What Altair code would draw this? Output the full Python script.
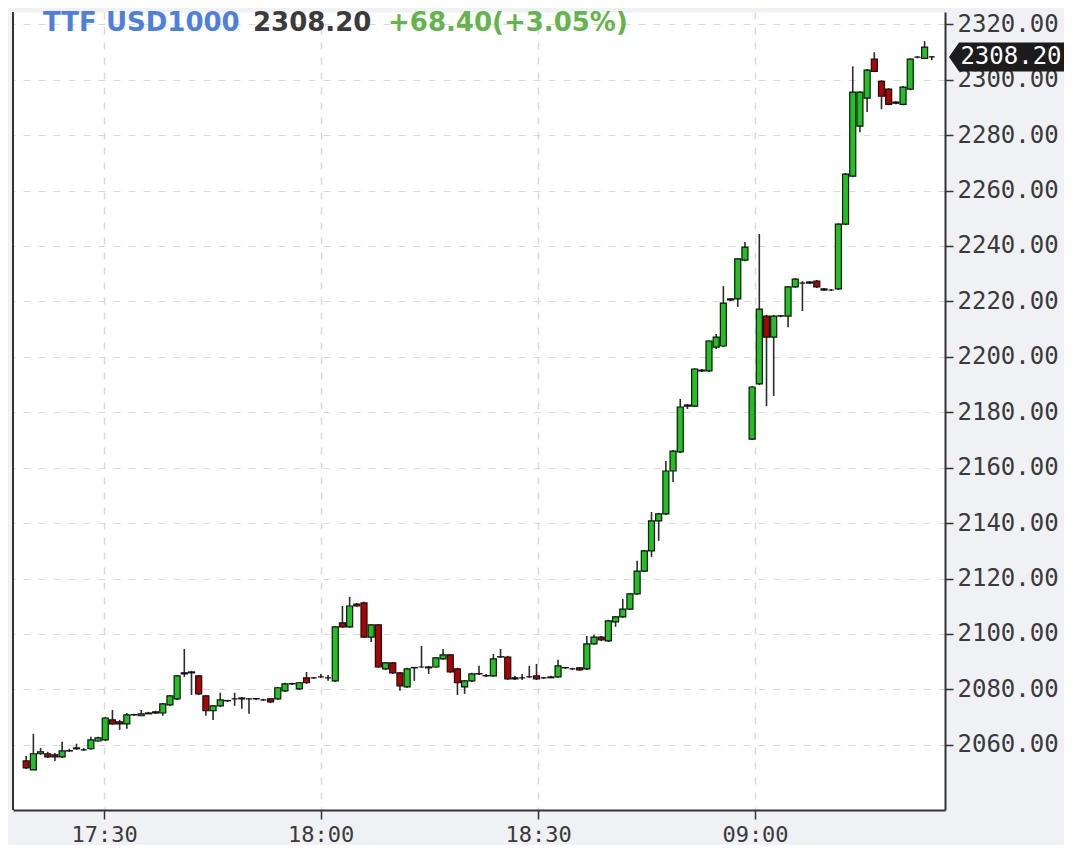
import altair as alt
import pandas as pd
import numpy as np

# ---- OHLC data (1-minute candles) ----
OPEN = [2054.2, 2051.0, 2056.8, 2056.8, 2056.4, 2055.7, 2057.8, 2058.6, 2058.2, 2058.6,
        2061.4, 2061.8, 2069.0, 2068.3, 2067.6, 2070.8, 2070.5, 2071.2, 2071.5, 2071.5,
        2074.4, 2076.6, 2085.6, 2086.3, 2084.9, 2077.7, 2072.3, 2074.1, 2075.9, 2076.6,
        2076.6, 2076.6, 2076.6, 2076.2, 2076.6, 2076.6, 2079.5, 2082.0, 2080.2, 2084.2,
        2084.2, 2084.5, 2084.2, 2083.1, 2104.0, 2102.6, 2110.8, 2111.2, 2098.9, 2103.3,
        2087.4, 2089.6, 2086.0, 2080.9, 2087.8, 2088.1, 2087.8, 2088.1, 2091.0, 2092.5,
        2087.4, 2080.9, 2083.1, 2085.6, 2084.9, 2084.9, 2091.7, 2091.7, 2083.8, 2084.2,
        2084.5, 2084.9, 2084.2, 2084.2, 2084.5, 2087.8, 2087.4, 2087.8, 2087.4, 2096.4,
        2098.9, 2097.5, 2104.4, 2106.2, 2109.0, 2114.5, 2122.7, 2130.0, 2140.8, 2143.3,
        2158.8, 2165.7, 2182.2, 2182.2, 2194.9, 2194.9, 2203.5, 2203.9, 2220.5, 2220.9,
        2234.9, 2170.3, 2190.2, 2214.7, 2207.1, 2214.7, 2214.7, 2225.2, 2226.6, 2226.6,
        2227.3, 2224.5, 2224.1, 2224.5, 2247.9, 2265.2, 2283.2, 2293.3, 2307.4, 2299.4,
        2296.6, 2291.9, 2291.1, 2296.6, 2308.1, 2307.7, 2308.2]

CLOSE = [2051.7, 2056.8, 2057.5, 2055.7, 2055.7, 2057.8, 2057.9, 2058.9, 2058.2, 2061.8,
         2062.5, 2069.7, 2067.6, 2067.6, 2070.8, 2070.9, 2071.2, 2071.5, 2071.9, 2074.8,
         2077.7, 2084.9, 2086.0, 2086.0, 2078.4, 2072.3, 2074.1, 2076.2, 2076.0, 2076.6,
         2076.9, 2076.6, 2076.7, 2076.2, 2075.5, 2080.6, 2082.0, 2082.1, 2082.4, 2082.4,
         2084.2, 2084.5, 2084.2, 2102.6, 2102.6, 2110.1, 2110.1, 2098.9, 2103.3, 2088.1,
         2089.6, 2086.0, 2081.3, 2087.4, 2087.9, 2088.1, 2088.1, 2091.4, 2092.5, 2086.3,
         2082.4, 2083.1, 2085.6, 2085.7, 2085.0, 2091.0, 2091.8, 2083.8, 2084.2, 2084.2,
         2084.5, 2083.8, 2084.2, 2084.5, 2088.5, 2087.9, 2087.4, 2087.0, 2096.4, 2098.9,
         2097.9, 2104.7, 2106.2, 2109.0, 2114.5, 2122.7, 2130.0, 2140.8, 2143.3, 2158.8,
         2166.0, 2181.9, 2182.6, 2195.6, 2195.2, 2205.7, 2207.1, 2219.4, 2220.9, 2235.3,
         2239.6, 2189.1, 2217.2, 2207.1, 2214.7, 2214.8, 2225.2, 2228.0, 2226.6, 2227.0,
         2225.2, 2224.1, 2224.1, 2247.9, 2265.9, 2295.5, 2295.5, 2303.4, 2303.0, 2294.0,
         2291.1, 2291.5, 2297.3, 2307.4, 2308.1, 2311.7, 2308.2]

HIGH = [2056.0, 2064.0, 2058.9, 2057.5, 2057.1, 2061.1, 2058.6, 2060.4, 2058.9, 2062.9,
        2062.9, 2070.1, 2072.6, 2069.0, 2071.5, 2071.2, 2072.6, 2071.9, 2072.3, 2075.1,
        2078.0, 2085.2, 2094.6, 2086.7, 2085.2, 2078.0, 2074.4, 2078.8, 2076.2, 2078.8,
        2077.3, 2076.9, 2076.9, 2076.6, 2076.9, 2080.9, 2082.4, 2082.4, 2082.7, 2086.3,
        2084.5, 2085.6, 2085.2, 2102.9, 2110.1, 2113.4, 2111.2, 2111.6, 2103.6, 2103.6,
        2089.9, 2089.9, 2086.3, 2087.8, 2088.1, 2095.7, 2088.5, 2091.7, 2094.6, 2092.8,
        2087.8, 2083.4, 2086.0, 2088.5, 2085.6, 2092.8, 2094.6, 2092.1, 2084.9, 2085.6,
        2088.5, 2089.2, 2084.5, 2084.9, 2090.7, 2088.1, 2087.8, 2088.1, 2099.3, 2099.7,
        2099.3, 2105.1, 2106.5, 2112.6, 2114.8, 2126.4, 2130.3, 2144.0, 2143.7, 2162.4,
        2166.4, 2184.8, 2183.0, 2195.9, 2195.6, 2206.0, 2208.2, 2225.5, 2221.2, 2235.6,
        2241.4, 2189.5, 2244.3, 2215.1, 2215.1, 2215.1, 2225.5, 2228.4, 2227.3, 2227.3,
        2227.7, 2224.8, 2224.5, 2248.2, 2266.3, 2304.8, 2295.8, 2303.8, 2309.9, 2299.8,
        2296.9, 2292.2, 2297.6, 2307.7, 2308.5, 2313.9, 2308.5]

LOW = [2051.3, 2051.0, 2056.4, 2055.3, 2054.2, 2055.3, 2057.5, 2058.2, 2057.8, 2058.2,
       2061.1, 2061.4, 2067.2, 2065.4, 2065.8, 2070.5, 2070.5, 2071.2, 2071.2, 2070.5,
       2074.1, 2076.2, 2084.5, 2078.0, 2078.0, 2070.5, 2069.0, 2073.7, 2075.5, 2074.1,
       2073.0, 2071.2, 2076.2, 2075.9, 2075.1, 2076.2, 2079.1, 2081.6, 2079.8, 2082.0,
       2083.8, 2084.2, 2083.1, 2082.7, 2102.2, 2102.2, 2109.8, 2098.6, 2097.1, 2087.8,
       2087.0, 2085.6, 2079.5, 2080.6, 2083.1, 2087.8, 2085.6, 2087.8, 2090.7, 2086.0,
       2078.0, 2078.4, 2082.7, 2085.2, 2084.5, 2084.5, 2091.4, 2083.4, 2083.4, 2083.4,
       2084.2, 2083.4, 2083.8, 2084.2, 2084.2, 2087.4, 2087.0, 2086.7, 2087.0, 2096.1,
       2097.5, 2097.1, 2102.6, 2105.8, 2108.7, 2114.1, 2122.4, 2127.8, 2133.6, 2142.9,
       2154.8, 2165.3, 2181.2, 2181.9, 2194.5, 2194.5, 2202.8, 2203.5, 2220.1, 2218.0,
       2234.5, 2170.0, 2189.8, 2182.2, 2185.9, 2214.3, 2210.7, 2224.8, 2216.5, 2226.2,
       2224.8, 2223.7, 2223.7, 2224.1, 2247.5, 2264.8, 2281.0, 2288.3, 2302.7, 2289.3,
       2290.8, 2291.1, 2290.8, 2296.2, 2307.7, 2307.4, 2307.0]

TICK_POS = [10.83, 40.95, 71.23, 101.40]
TICK_LABELS = ["17:30", "18:00", "18:30", "09:00"]
Y_TICKS = list(range(2060, 2321, 20))
X_DOMAIN = [-1.14, 127.14]
Y_DOMAIN = [2036.5, 2324.4]
TITLE_PARTS = ["TTF USD1000", "2308.20", "+68.40(+3.05%)"]
TITLE_COLORS = ["#4d7fe3", "#3b3b3b", "#62b54a"]
LAST_PRICE = CLOSE[-1]

df = pd.DataFrame({"i": np.arange(len(OPEN)), "open": OPEN, "close": CLOSE,
                   "high": HIGH, "low": LOW})
df["dir"] = np.where(df["close"] >= df["open"], "up", "down")

label_expr = " : ".join(
    f"abs(datum.value - {p}) < 0.5 ? '{l}'" for p, l in zip(TICK_POS, TICK_LABELS)
) + " : ''"

GRID_DASH = [7, 8]
x_enc = alt.X("i:Q", scale=alt.Scale(domain=X_DOMAIN, nice=False, zero=False),
              axis=alt.Axis(values=TICK_POS, labelExpr=label_expr, title=None,
                            grid=True, gridDash=GRID_DASH, gridColor="#dadada", gridWidth=1.5,
                            labelFont="DejaVu Sans Mono", labelFontSize=22, labelColor="#3a3a3a",
                            tickSize=9, tickColor="#333", tickWidth=1.5,
                            domainColor="#333", domainWidth=2, labelPadding=5))
y_scale = alt.Scale(domain=Y_DOMAIN, nice=False, zero=False)
y_axis = alt.Axis(orient="right", values=Y_TICKS, format=".2f", title=None,
                  grid=True, gridDash=GRID_DASH, gridColor="#dadada", gridWidth=1,
                  labelFont="DejaVu Sans Mono", labelFontSize=24, labelColor="#3a3a3a",
                  tickSize=8, tickColor="#333", tickWidth=1.5,
                  domainColor="#333", domainWidth=2, labelPadding=4)

base = alt.Chart(df)

wicks = base.mark_rule(color="#2b2b2b", strokeWidth=1.6).encode(
    x=x_enc,
    y=alt.Y("low:Q", scale=y_scale, axis=y_axis),
    y2="high:Q",
)

bodies = base.mark_bar(size=6, stroke="#111111", strokeWidth=1.2).encode(
    x=x_enc,
    y=alt.Y("open:Q", scale=y_scale, axis=y_axis),
    y2="close:Q",
    color=alt.Color("dir:N", scale=alt.Scale(domain=["up", "down"], range=["#1ec41e", "#b30000"]),
                    legend=None),
)

left_border = alt.Chart(pd.DataFrame({"a": [0]})).mark_rule(color="#333", strokeWidth=2).encode(
    x=alt.value(0), y=alt.value(0), y2=alt.value(798)
)

title_layers = []
title_x = [30, 240, 375]
for txt, col, xp in zip(TITLE_PARTS, TITLE_COLORS, title_x):
    title_layers.append(
        alt.Chart(pd.DataFrame({"t": [txt]})).mark_text(
            font="DejaVu Sans", fontWeight="bold", fontSize=26, color=col,
            align="left", baseline="middle"
        ).encode(x=alt.value(xp), y=alt.value(11), text="t:N")
    )

last_df = pd.DataFrame({"price": [LAST_PRICE], "label": [f"{LAST_PRICE:.2f}"]})
box_path = "M -1 0 L -0.826 -0.252 L 1 -0.252 L 1 0.252 L -0.826 0.252 Z"
price_box = alt.Chart(last_df).mark_point(
    shape=box_path, size=115 * 115, filled=True, color="#1c1c1c", opacity=1
).encode(x=alt.value(993.5), y=alt.Y("price:Q", scale=y_scale, axis=y_axis))
price_text = alt.Chart(last_df).mark_text(
    font="DejaVu Sans Mono", fontSize=24, color="white", align="center", baseline="middle"
).encode(x=alt.value(998), y=alt.Y("price:Q", scale=y_scale, axis=y_axis), text="label:N")

chart = alt.layer(wicks, bodies, left_border, price_box, price_text, *title_layers).properties(
    width=932, height=798,
    padding={"left": 4, "top": 2, "right": 0, "bottom": 0},
    background="#eff1f4",
).configure_view(fill="white", stroke="transparent")

chart.save("out.html", embed_options={"renderer": "svg", "actions": False})
